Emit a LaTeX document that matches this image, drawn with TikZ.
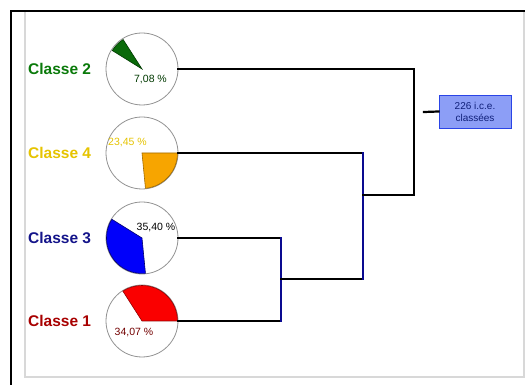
\documentclass[tikz,border=0pt]{standalone}
\usepackage{fontspec}
\setmainfont{Liberation Sans}
\definecolor{frameGray}{HTML}{D8D8D8}
\definecolor{linkNavy}{HTML}{0A0A90}
\definecolor{cGreen}{HTML}{0A7A0A}
\definecolor{cGold}{HTML}{E6C400}
\definecolor{cNavy}{HTML}{14148A}
\definecolor{cRed}{HTML}{A80000}
\definecolor{sliceGreen}{HTML}{0A6A0A}
\definecolor{sliceGreenEdge}{HTML}{003A00}
\definecolor{sliceOrange}{HTML}{F7A500}
\definecolor{sliceOrangeEdge}{HTML}{A06A00}
\definecolor{sliceBlue}{HTML}{0000FA}
\definecolor{sliceBlueEdge}{HTML}{000070}
\definecolor{sliceRed}{HTML}{FA0000}
\definecolor{sliceRedEdge}{HTML}{900000}
\definecolor{rootFill}{HTML}{8C9EF6}
\definecolor{rootEdge}{HTML}{2A44E6}
\definecolor{rootText}{HTML}{10207A}
\begin{document}
\begin{tikzpicture}[x=1pt,y=1pt,
  pie/.style={circle,draw=gray!85,line width=0.8pt,minimum size=72pt,inner sep=0pt},
  classlabel/.style={anchor=west,inner sep=0pt,font=\fontsize{15.5}{16}\selectfont\bfseries},
  pct/.style={inner sep=0pt,font=\fontsize{10.5}{11}\selectfont},
  hlink/.style={draw=black,line width=2.7pt,line cap=rect},
  vlink/.style={draw=linkNavy,line width=2.7pt,line cap=rect},
  rootbox/.style={draw=rootEdge,fill=rootFill,line width=0.9pt,minimum width=72pt,minimum height=33pt,
    inner sep=0pt,align=center,text=rootText,font=\fontsize{10}{12}\selectfont}]
\useasboundingbox (0,0) rectangle (528,385);
\fill[white] (0,0) rectangle (528,385);

% outer frame
\draw[frameGray,line width=2pt] (24.5,374) -- (24.5,7.5) -- (524,7.5) -- (524,374);
\draw[black,line width=2.2pt] (11,0) -- (11,374) -- (525,374);

% pie nodes, one per class
\node[pie] (c2) at (142,316) {};
\node[pie] (c4) at (142,232) {};
\node[pie] (c3) at (142,147) {};
\node[pie] (c1) at (142,64) {};

% slices (cumulative shares: 34.07, 7.08, 35.40, 23.45)
\filldraw[fill=sliceRed,draw=sliceRedEdge,line width=0.6pt]
  (c1.center) -- ++(0:35.5) arc[start angle=0,end angle=122.65,radius=35.5] -- cycle;
\filldraw[fill=sliceGreen,draw=sliceGreenEdge,line width=0.6pt]
  (c2.center) -- ++(122.65:35) arc[start angle=122.65,end angle=148.14,radius=35] -- cycle;
\filldraw[fill=sliceBlue,draw=sliceBlueEdge,line width=0.6pt]
  (c3.center) -- ++(148.14:35.5) arc[start angle=148.14,end angle=275.58,radius=35.5] -- cycle;
\filldraw[fill=sliceOrange,draw=sliceOrangeEdge,line width=0.6pt]
  (c4.center) -- ++(275.58:35.5) arc[start angle=275.58,end angle=360,radius=35.5] -- cycle;

% percentages
\node[pct,text=sliceGreenEdge] (p2) at (150.5,305) {7,08 \%};
\node[pct,text=cGold] (p4) at (127.5,242) {23,45 \%};
\node[pct,text=black] (p3) at (156,157) {35,40 \%};
\node[pct,text=sliceRedEdge!80!black] (p1) at (134,52) {34,07 \%};

% class labels
\node[classlabel,text=cGreen] (l2) at (28,316) {Classe 2};
\node[classlabel,text=cGold] (l4) at (28,232) {Classe 4};
\node[classlabel,text=cNavy] (l3) at (28,147) {Classe 3};
\node[classlabel,text=cRed] (l1) at (28,64) {Classe 1};

% dendrogram joints
\coordinate (a3) at (281,147);
\coordinate (a1) at (281,64);
\coordinate (m13) at (281,106);
\coordinate (b13) at (363,106);
\coordinate (b4) at (363,232);
\coordinate (m134) at (363,190);
\coordinate (d134) at (414,190);
\coordinate (d2) at (414,316);
\coordinate (stub) at (424,273);

\draw[hlink] (c3.east) -- (a3);
\draw[hlink] (c1.east) -- (a1);
\draw[vlink] (a3) -- (a1);
\draw[hlink] (m13) -- (b13);
\draw[hlink] (c4.east) -- (b4);
\draw[vlink] (b4) -- (b13);
\draw[hlink] (m134) -- (d134);
\draw[hlink] (c2.east) -- (d2);
\draw[hlink] (d2) -- (d134);

% root
\node[rootbox] (root) at (475,273.5) {226 i.c.e.\\classées};
\draw[hlink,line width=2.2pt] (stub) -- (root.west);
\end{tikzpicture}
\end{document}
